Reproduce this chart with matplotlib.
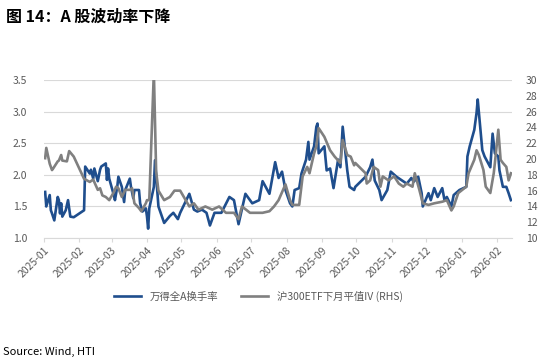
import pandas as pd
import matplotlib
matplotlib.use("Agg")
import matplotlib.pyplot as plt
import matplotlib.dates as mdates
from matplotlib.ticker import MultipleLocator, FormatStrFormatter

plt.rcParams["font.family"] = ["Noto Sans CJK SC", "DejaVu Sans"]

# 万得全A换手率 (left axis, %)
turnover_dates = [
    "2025-01-02", "2025-01-03", "2025-01-06", "2025-01-07", "2025-01-08", "2025-01-10",
    "2025-01-13", "2025-01-14", "2025-01-15", "2025-01-16", "2025-01-17", "2025-01-20",
    "2025-01-22", "2025-01-24", "2025-01-27", "2025-02-05", "2025-02-06", "2025-02-10",
    "2025-02-11", "2025-02-13", "2025-02-14", "2025-02-17", "2025-02-19", "2025-02-20",
    "2025-02-24", "2025-02-25", "2025-02-26", "2025-02-27", "2025-03-03", "2025-03-04",
    "2025-03-06", "2025-03-07", "2025-03-10", "2025-03-12", "2025-03-13", "2025-03-17",
    "2025-03-18", "2025-03-20", "2025-03-21", "2025-03-25", "2025-03-26", "2025-03-28",
    "2025-03-31", "2025-04-01", "2025-04-02", "2025-04-03", "2025-04-07", "2025-04-08",
    "2025-04-11", "2025-04-16", "2025-04-21", "2025-04-24", "2025-04-28", "2025-04-30",
    "2025-05-08", "2025-05-12", "2025-05-15", "2025-05-19", "2025-05-23", "2025-05-26",
    "2025-05-30", "2025-06-05", "2025-06-12", "2025-06-16", "2025-06-20", "2025-06-26",
    "2025-07-02", "2025-07-08", "2025-07-11", "2025-07-17", "2025-07-22", "2025-07-25",
    "2025-07-28", "2025-07-31", "2025-08-04", "2025-08-06", "2025-08-08", "2025-08-12",
    "2025-08-14", "2025-08-18", "2025-08-20", "2025-08-21", "2025-08-25", "2025-08-27",
    "2025-08-28", "2025-08-29", "2025-09-03", "2025-09-05", "2025-09-08", "2025-09-11",
    "2025-09-15", "2025-09-17", "2025-09-19", "2025-09-23", "2025-09-25", "2025-09-29",
    "2025-09-30", "2025-10-09", "2025-10-13", "2025-10-15", "2025-10-17", "2025-10-21",
    "2025-10-23", "2025-10-28", "2025-10-31", "2025-11-05", "2025-11-10", "2025-11-14",
    "2025-11-18", "2025-11-20", "2025-11-24", "2025-11-27", "2025-11-28", "2025-12-03",
    "2025-12-05", "2025-12-08", "2025-12-11", "2025-12-15", "2025-12-17", "2025-12-19",
    "2025-12-23", "2025-12-25", "2025-12-30", "2026-01-05", "2026-01-06", "2026-01-08",
    "2026-01-12", "2026-01-14", "2026-01-15", "2026-01-19", "2026-01-21", "2026-01-26",
    "2026-01-28", "2026-01-30", "2026-02-02", "2026-02-03", "2026-02-06", "2026-02-09",
    "2026-02-11", "2026-02-13",
]
turnover = [
    1.73, 1.50, 1.68, 1.44, 1.39, 1.28,
    1.65, 1.60, 1.39, 1.55, 1.34, 1.44,
    1.60, 1.34, 1.33, 1.44, 2.13, 2.02,
    2.08, 1.94, 2.10, 1.90, 2.08, 2.13,
    2.18, 1.92, 2.10, 1.94, 1.68, 1.60,
    1.81, 1.97, 1.81, 1.57, 1.76, 1.94,
    1.81, 1.63, 1.76, 1.76, 1.55, 1.42,
    1.47, 1.34, 1.15, 1.47, 1.81, 2.23,
    1.50, 1.24, 1.35, 1.40, 1.30, 1.40,
    1.70, 1.45, 1.42, 1.45, 1.40, 1.20,
    1.40, 1.40, 1.65, 1.60, 1.22, 1.70,
    1.55, 1.60, 1.90, 1.70, 2.20, 1.95,
    2.05, 1.76, 1.55, 1.50, 1.76, 1.79,
    2.02, 2.24, 2.52, 2.24, 2.45, 2.76,
    2.81, 2.34, 2.45, 2.07, 2.10, 1.79,
    2.24, 2.12, 2.76, 2.07, 1.81, 1.76,
    1.81, 1.97, 2.12, 2.24, 1.91, 1.76,
    1.60, 1.76, 2.05, 1.97, 1.91, 1.86,
    1.95, 1.89, 1.97, 1.71, 1.50, 1.71,
    1.60, 1.79, 1.65, 1.79, 1.60, 1.65,
    1.50, 1.68, 1.76, 1.81, 2.29, 2.45,
    2.71, 2.98, 3.19, 2.39, 2.29, 2.12,
    2.65, 2.34, 2.29, 2.07, 1.81, 1.81,
    1.71, 1.60,
]

# 沪300ETF下月平值IV (right axis)
iv_dates = [
    "2025-01-02", "2025-01-03", "2025-01-06", "2025-01-08", "2025-01-09", "2025-01-13",
    "2025-01-14", "2025-01-16", "2025-01-17", "2025-01-21", "2025-01-23", "2025-01-27",
    "2025-02-05", "2025-02-10", "2025-02-13", "2025-02-17", "2025-02-19", "2025-02-21",
    "2025-02-24", "2025-02-27", "2025-03-03", "2025-03-05", "2025-03-07", "2025-03-10",
    "2025-03-13", "2025-03-17", "2025-03-19", "2025-03-21", "2025-03-25", "2025-03-27",
    "2025-03-31", "2025-04-01", "2025-04-03", "2025-04-07", "2025-04-09", "2025-04-11",
    "2025-04-16", "2025-04-21", "2025-04-25", "2025-04-30", "2025-05-08", "2025-05-12",
    "2025-05-16", "2025-05-22", "2025-05-28", "2025-06-03", "2025-06-09", "2025-06-16",
    "2025-06-20", "2025-06-23", "2025-06-30", "2025-07-07", "2025-07-11", "2025-07-17",
    "2025-07-21", "2025-07-25", "2025-07-31", "2025-08-04", "2025-08-06", "2025-08-08",
    "2025-08-12", "2025-08-15", "2025-08-19", "2025-08-21", "2025-08-25", "2025-08-27",
    "2025-08-29", "2025-09-03", "2025-09-08", "2025-09-12", "2025-09-17", "2025-09-19",
    "2025-09-23", "2025-09-26", "2025-09-29", "2025-09-30", "2025-10-09", "2025-10-10",
    "2025-10-13", "2025-10-16", "2025-10-20", "2025-10-22", "2025-10-24", "2025-10-29",
    "2025-11-03", "2025-11-07", "2025-11-11", "2025-11-14", "2025-11-19", "2025-11-21",
    "2025-11-25", "2025-11-28", "2025-12-03", "2025-12-08", "2025-12-15", "2025-12-19",
    "2025-12-23", "2025-12-25", "2025-12-29", "2026-01-05", "2026-01-07", "2026-01-12",
    "2026-01-14", "2026-01-16", "2026-01-20", "2026-01-22", "2026-01-26", "2026-01-29",
    "2026-01-30", "2026-02-02", "2026-02-04", "2026-02-06", "2026-02-09", "2026-02-11",
    "2026-02-13",
]
iv = [
    20.1, 21.4, 19.4, 18.6, 18.8, 19.7,
    19.8, 20.5, 19.8, 19.7, 21.0, 20.3,
    17.5, 17.1, 17.4, 16.1, 16.3, 15.4,
    15.2, 14.8, 15.8, 16.5, 16.3, 15.2,
    16.1, 16.1, 16.3, 14.4, 13.8, 13.4,
    14.4, 14.8, 14.8, 31.0, 18.4, 16.0,
    14.8, 15.2, 16.0, 16.0, 14.0, 14.4,
    13.6, 14.0, 13.6, 14.0, 13.2, 13.2,
    12.4, 14.0, 13.2, 13.2, 13.2, 13.4,
    14.0, 14.8, 16.8, 14.8, 14.2, 14.2,
    14.2, 17.8, 19.0, 18.2, 20.7, 21.6,
    23.9, 22.8, 21.1, 20.3, 19.5, 22.4,
    20.5, 20.3, 19.2, 19.5, 18.2, 16.9,
    17.3, 19.0, 18.6, 16.5, 17.8, 17.3,
    17.8, 16.9, 16.5, 16.9, 16.5, 18.2,
    16.1, 14.4, 14.2, 14.4, 14.6, 14.8,
    13.5, 14.0, 15.7, 16.5, 18.2, 19.9,
    21.1, 20.5, 18.6, 16.5, 15.7, 18.2,
    19.5, 23.7, 19.9, 19.5, 19.0, 17.3,
    18.2,
]

month_ticks = pd.date_range("2025-01-01", "2026-02-01", freq="MS")

BLUE = "#1f4e8d"
GRAY = "#808080"
TICK_COLOR = "#595959"

fig = plt.figure(figsize=(5.5, 3.63), dpi=100)
ax = fig.add_axes([0.08, 0.344, 0.851, 0.436])
ax2 = ax.twinx()

ax.plot(pd.to_datetime(turnover_dates), turnover, color=BLUE, lw=1.9,
        label="万得全A换手率", solid_joinstyle="round")
ax2.plot(pd.to_datetime(iv_dates), iv, color=GRAY, lw=1.9,
         label="沪300ETF下月平值IV (RHS)", solid_joinstyle="round")

ax.set_ylim(1.0, 3.5)
ax.yaxis.set_major_locator(MultipleLocator(0.5))
ax.yaxis.set_major_formatter(FormatStrFormatter("%.1f"))
ax2.set_ylim(10, 30)
ax2.yaxis.set_major_locator(MultipleLocator(2))

ax.set_xlim(pd.Timestamp("2025-01-01"), pd.Timestamp("2026-02-14"))
ax.set_xticks(month_ticks)
ax.xaxis.set_major_formatter(mdates.DateFormatter("%Y-%m"))
for lbl in ax.get_xticklabels():
    lbl.set_rotation(45)
    lbl.set_ha("right")
    lbl.set_rotation_mode("anchor")

ax.grid(axis="y", color="#d9d9d9", lw=0.8)
ax.set_axisbelow(True)
for a in (ax, ax2):
    for side in ("top", "left", "right"):
        a.spines[side].set_visible(False)
    a.spines["bottom"].set_color("#d9d9d9")
ax2.spines["bottom"].set_visible(False)

ax.tick_params(axis="x", colors=TICK_COLOR, labelsize=7.5, length=3, color="#d9d9d9", pad=2)
ax.tick_params(axis="y", colors=TICK_COLOR, labelsize=7.5, length=0, pad=12)
ax2.tick_params(axis="y", colors=TICK_COLOR, labelsize=7.5, length=0, pad=10)

h1, l1 = ax.get_legend_handles_labels()
h2, l2 = ax2.get_legend_handles_labels()
fig.legend(h1 + h2, l1 + l2, loc="center", bbox_to_anchor=(0.47, 0.183), ncol=2,
           frameon=False, fontsize=7.5, handlelength=2.6, columnspacing=2.2,
           labelcolor=TICK_COLOR)

fig.text(0.01, 0.955, "图 14：A 股波动率下降", fontsize=11.5, fontweight="bold",
         ha="left", va="center")
fig.text(0.005, 0.03, "Source: Wind, HTI", fontsize=8, ha="left", va="center")

fig.savefig("out.png", dpi=100)
